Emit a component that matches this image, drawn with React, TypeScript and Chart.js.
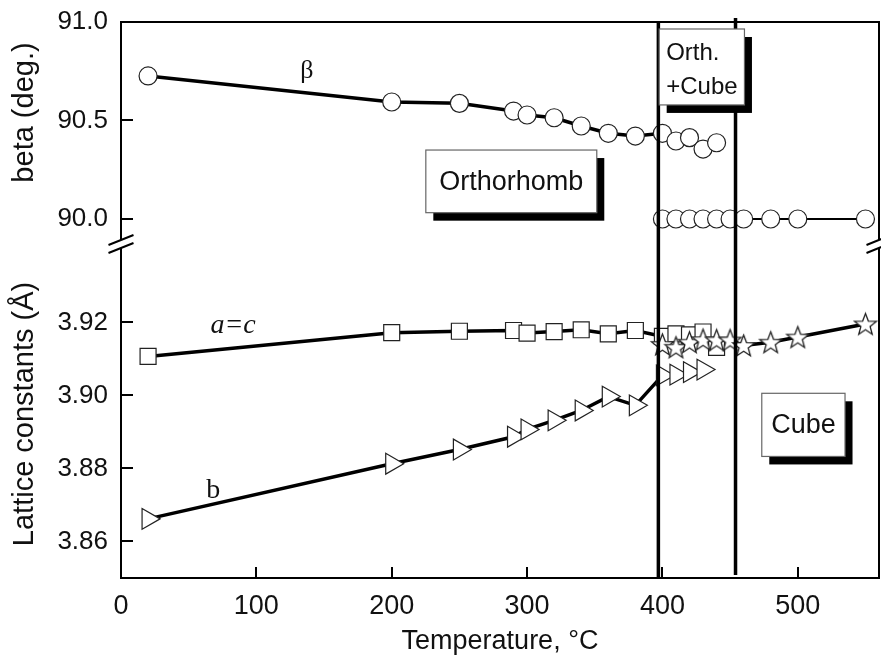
import React, { useEffect, useRef } from "react";
import { Chart, registerables } from "chart.js";
Chart.register(...registerables);

// ---------- data ----------
const betaOrthoT = [20, 200, 250, 290, 300, 320, 340, 360, 380, 400, 410, 420, 430, 440];
const betaOrtho = [90.726, 90.594, 90.587, 90.548, 90.528, 90.514, 90.472, 90.435, 90.421, 90.435, 90.396, 90.413, 90.355, 90.387];
const betaCubeT = [400, 410, 420, 430, 440, 450, 460, 480, 500, 550];
const betaCube = [90.0, 90.0, 90.0, 90.0, 90.0, 90.0, 90.0, 90.0, 90.0, 90.0];
const acT = [20, 200, 250, 290, 300, 320, 340, 360, 380, 400, 410, 420, 430, 440];
const acVals = [3.9107, 3.9172, 3.9176, 3.9178, 3.9171, 3.9175, 3.918, 3.9169, 3.9178, 3.9162, 3.9169, 3.9166, 3.9174, 3.9132];
const bT = [20, 200, 250, 290, 300, 320, 340, 360, 380, 400, 410, 420, 430];
const bVals = [3.8662, 3.8813, 3.8852, 3.8887, 3.8907, 3.8932, 3.8959, 3.8997, 3.8973, 3.9055, 3.9057, 3.9064, 3.9071];
const cubeT = [400, 410, 420, 430, 440, 450, 460, 480, 500, 550];
const cubeA = [3.914, 3.9132, 3.9146, 3.9153, 3.9152, 3.9152, 3.9137, 3.9146, 3.916, 3.9196];

const xTicks = [0, 100, 200, 300, 400, 500];
const yTopTicks = [90.0, 90.5, 91.0];
const yBotTicks = [3.86, 3.88, 3.9, 3.92];
const phaseBounds = [397, 454];

const SANS = "'Liberation Sans', Arial, Helvetica, sans-serif";
const SERIF = "'Liberation Serif', 'Times New Roman', serif";

function pts(xs: number[], ys: number[]) {
  return xs.map((x, i) => ({ x, y: ys[i] }));
}

function makeStar(r: number) {
  const size = Math.ceil(r * 2 + 4);
  const c = document.createElement("canvas");
  c.width = size;
  c.height = size;
  const ctx = c.getContext("2d")!;
  ctx.translate(size / 2, size / 2 + 1);
  ctx.beginPath();
  for (let i = 0; i < 10; i++) {
    const rr = i % 2 === 0 ? r : r * 0.42;
    const a = -Math.PI / 2 + (i * Math.PI) / 5;
    ctx.lineTo(rr * Math.cos(a), rr * Math.sin(a));
  }
  ctx.closePath();
  ctx.fillStyle = "#fff";
  ctx.fill();
  ctx.strokeStyle = "#222";
  ctx.lineWidth = 1.3;
  ctx.stroke();
  return c;
}

const zeroPad = (s: any) => {
  s.paddingTop = 0;
  s.paddingBottom = 0;
  s.paddingLeft = 0;
  s.paddingRight = 0;
};

const decor = {
  id: "decor",
  beforeDraw(chart: any) {
    const { ctx, width, height } = chart;
    ctx.save();
    ctx.fillStyle = "#fff";
    ctx.fillRect(0, 0, width, height);
    ctx.restore();
  },
  afterDatasetsDraw(chart: any) {
    const { ctx, chartArea: a, scales } = chart;
    const sx = scales.x, yt = scales.yTop, yb = scales.yBot;
    ctx.save();
    ctx.strokeStyle = "#000";
    ctx.lineWidth = 2;
    // frame top & right
    ctx.beginPath();
    ctx.moveTo(a.left, a.top);
    ctx.lineTo(a.right, a.top);
    ctx.lineTo(a.right, a.bottom);
    ctx.stroke();
    // inward ticks
    ctx.beginPath();
    xTicks.forEach((v) => {
      if (v === 0) return;
      const px = Math.round(sx.getPixelForValue(v));
      ctx.moveTo(px, a.bottom);
      ctx.lineTo(px, a.bottom - 11);
    });
    yTopTicks.forEach((v) => {
      if (v === 91) return;
      const py = Math.round(yt.getPixelForValue(v));
      ctx.moveTo(a.left, py);
      ctx.lineTo(a.left + 12, py);
    });
    yBotTicks.forEach((v) => {
      const py = Math.round(yb.getPixelForValue(v));
      ctx.moveTo(a.left, py);
      ctx.lineTo(a.left + 12, py);
    });
    ctx.stroke();
    // phase boundary lines
    ctx.lineWidth = 3.5;
    ctx.beginPath();
    const p1 = sx.getPixelForValue(phaseBounds[0]);
    ctx.moveTo(p1, a.top);
    ctx.lineTo(p1, a.bottom);
    const p2 = sx.getPixelForValue(phaseBounds[1]);
    ctx.moveTo(p2, a.top - 4);
    ctx.lineTo(p2, a.bottom - 3);
    ctx.stroke();

    // boxes
    const box = (x0: number, x1: number, y0: number, y1: number, ys: any, lines: string[], font: string, align: string) => {
      const L = sx.getPixelForValue(x0), R = sx.getPixelForValue(x1);
      const T = ys.getPixelForValue(y0), B = ys.getPixelForValue(y1);
      ctx.fillStyle = "#000";
      ctx.fillRect(L + 7.5, T + 8, R - L, B - T);
      ctx.fillStyle = "#fff";
      ctx.fillRect(L, T, R - L, B - T);
      ctx.strokeStyle = "#666";
      ctx.lineWidth = 1.2;
      ctx.strokeRect(L, T, R - L, B - T);
      ctx.fillStyle = "#111";
      ctx.font = font;
      ctx.textBaseline = "middle";
      if (align === "center") {
        ctx.textAlign = "center";
        ctx.fillText(lines[0], (L + R) / 2, (T + B) / 2 + 1);
      } else {
        ctx.textAlign = "left";
        lines.forEach((s, i) => ctx.fillText(s, L + 7, T + 24 + i * 34));
      }
    };
    box(225.2, 351.5, 90.35, 90.032, yt, ["Orthorhomb"], `27px ${SANS}`, "center");
    box(397.6, 460.6, 90.9645, 90.579, yt, ["Orth.", "+Cube"], `24px ${SANS}`, "left");
    box(473.4, 534.9, 3.9006, 3.8833, yb, ["Cube"], `27px ${SANS}`, "center");

    // curve labels
    ctx.fillStyle = "#111";
    ctx.textAlign = "center";
    ctx.textBaseline = "middle";
    ctx.font = `26px ${SERIF}`;
    ctx.fillText("\u03b2", sx.getPixelForValue(137.3), yt.getPixelForValue(90.748));
    ctx.font = `italic 28px ${SERIF}`;
    ctx.fillText("a=c", sx.getPixelForValue(82.8), yb.getPixelForValue(3.9192));
    ctx.font = `28px ${SERIF}`;
    ctx.fillText("b", sx.getPixelForValue(68.1), yb.getPixelForValue(3.874));

    // axis break marks
    const by = yb.top;
    ctx.strokeStyle = "#000";
    ctx.lineWidth = 2;
    [a.left, a.right].forEach((cx) => {
      ctx.fillStyle = "#fff";
      ctx.beginPath();
      ctx.moveTo(cx - 12.5, by + 1);
      ctx.lineTo(cx + 12.5, by - 9);
      ctx.lineTo(cx + 12.5, by - 1);
      ctx.lineTo(cx - 12.5, by + 9);
      ctx.closePath();
      ctx.fill();
      ctx.beginPath();
      ctx.moveTo(cx - 12.5, by + 1);
      ctx.lineTo(cx + 12.5, by - 9);
      ctx.moveTo(cx - 12.5, by + 9);
      ctx.lineTo(cx + 12.5, by - 1);
      ctx.stroke();
    });

    // y axis titles
    ctx.fillStyle = "#111";
    ctx.font = `29px ${SANS}`;
    ctx.textAlign = "center";
    ctx.textBaseline = "middle";
    ctx.save();
    ctx.translate(25, 112.5);
    ctx.rotate(-Math.PI / 2);
    ctx.fillText("beta (deg.)", 0, 0);
    ctx.restore();
    ctx.save();
    ctx.translate(25, 414);
    ctx.rotate(-Math.PI / 2);
    ctx.fillText("Lattice constants (\u00c5)", 0, 0);
    ctx.restore();

    ctx.restore();
  },
};

export default function App() {
  const ref = useRef<HTMLCanvasElement | null>(null);
  useEffect(() => {
    const canvas = ref.current!;
    const star = makeStar(11.5);
    const markerCommon = {
      pointBackgroundColor: "#fff",
      pointBorderColor: "#222",
      pointBorderWidth: 1.2,
      borderColor: "#000",
      showLine: true,
      fill: false,
    };
    const chart = new Chart(canvas, {
      type: "line",
      data: {
        datasets: [
          {
            ...markerCommon,
            label: "cubic a",
            data: pts(cubeT, cubeA),
            yAxisID: "yBot",
            borderWidth: 3.5,
            pointStyle: star as any,
            pointRadius: 11,
            order: 1,
          },
          {
            ...markerCommon,
            label: "a=c",
            data: pts(acT, acVals),
            yAxisID: "yBot",
            borderWidth: 3.5,
            pointStyle: "rect",
            pointRadius: 11.3,
            order: 2,
          },
          {
            ...markerCommon,
            label: "b",
            data: pts(bT, bVals),
            yAxisID: "yBot",
            borderWidth: 3.5,
            pointStyle: "triangle",
            rotation: 90,
            pointRadius: 12,
            order: 3,
          } as any,
          {
            ...markerCommon,
            label: "beta ortho",
            data: pts(betaOrthoT, betaOrtho),
            yAxisID: "yTop",
            borderWidth: 3.5,
            pointStyle: "circle",
            pointRadius: 9,
            order: 4,
          },
          {
            ...markerCommon,
            label: "beta cubic",
            data: pts(betaCubeT, betaCube),
            yAxisID: "yTop",
            borderWidth: 2,
            pointStyle: "circle",
            pointRadius: 9,
            order: 5,
          },
        ],
      },
      options: {
        responsive: false,
        animation: false,
        events: [],
        layout: { autoPadding: false, padding: { top: 22, right: 2, left: 0, bottom: 0 } },
        plugins: { legend: { display: false }, tooltip: { enabled: false } },
        scales: {
          x: {
            type: "linear",
            min: 0,
            max: 560,
            afterBuildTicks: (s: any) => {
              s.ticks = xTicks.map((v) => ({ value: v }));
            },
            afterFit: (s: any) => {
              s.height = 84;
              zeroPad(s);
            },
            grid: { display: false, drawTicks: false },
            border: { display: true, color: "#000", width: 2 },
            ticks: {
              autoSkip: false,
              maxRotation: 0,
              padding: 12,
              color: "#111",
              font: { family: SANS, size: 27 },
              callback: (v: any) => String(v),
            },
            title: {
              display: true,
              text: "Temperature, \u00b0C",
              color: "#111",
              font: { family: SANS, size: 27 },
              padding: { top: 0, bottom: 4 },
            },
          },
          yBot: {
            type: "linear",
            position: "left",
            stack: "main",
            stackWeight: 334,
            min: 3.85,
            max: 3.9415,
            afterBuildTicks: (s: any) => {
              s.ticks = yBotTicks.map((v) => ({ value: v }));
            },
            afterFit: (s: any) => {
              s.width = 121;
              zeroPad(s);
            },
            grid: { display: false, drawTicks: false },
            border: { display: true, color: "#000", width: 2 },
            ticks: {
              autoSkip: false,
              padding: 13,
              color: "#111",
              font: { family: SANS, size: 26 },
              callback: (v: any) => Number(v).toFixed(2),
            },
          },
          yTop: {
            type: "linear",
            position: "left",
            stack: "main",
            stackWeight: 222,
            min: 89.873,
            max: 91.0,
            afterBuildTicks: (s: any) => {
              s.ticks = yTopTicks.map((v) => ({ value: v }));
            },
            afterFit: (s: any) => {
              s.width = 121;
              zeroPad(s);
            },
            grid: { display: false, drawTicks: false },
            border: { display: true, color: "#000", width: 2 },
            ticks: {
              autoSkip: false,
              padding: 13,
              color: "#111",
              font: { family: SANS, size: 26 },
              callback: (v: any) => Number(v).toFixed(1),
            },
          },
        },
      } as any,
      plugins: [decor],
    });
    return () => chart.destroy();
  }, []);
  return (
    <div style={{ position: "absolute", left: 0, top: 0, width: 881, height: 662 }}>
      <canvas ref={ref} width={881} height={662} style={{ display: "block" }} />
    </div>
  );
}
